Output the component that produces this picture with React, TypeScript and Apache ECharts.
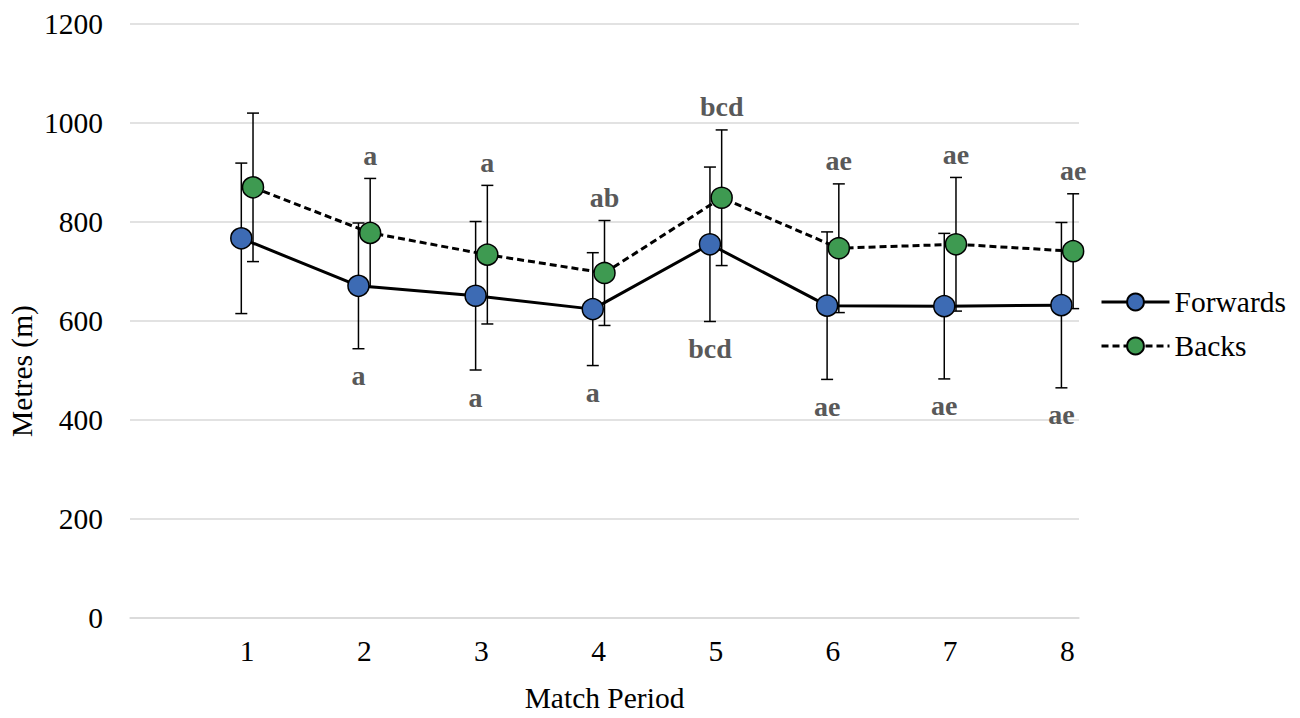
import React, { useEffect, useRef } from "react";
import * as echarts from "echarts";

const periods = [1, 2, 3, 4, 5, 6, 7, 8];
const forwardsMean = [767, 671, 651, 624, 755, 631, 630, 632];
const forwardsSD = [152, 127, 150, 114, 156, 149, 147, 167];
const backsMean = [870, 778, 734, 697, 849, 747, 755, 741];
const backsSD = [150, 110, 140, 106, 137, 130, 135, 116];
const forwardsLetters = ["", "a", "a", "a", "bcd", "ae", "ae", "ae"];
const backsLetters = ["", "a", "a", "ab", "bcd", "ae", "ae", "ae"];

const FONT = "Liberation Serif, Times New Roman, serif";
const FS = 29.5;
const FORWARD_SHIFT = -0.05;
const BACK_SHIFT = 0.05;
const BLUE = "#3d6bb4";
const GREEN = "#3e9a51";
const GRID = "#d9d9d9";

function errorSeries(
  name: string,
  means: number[],
  sds: number[],
  shift: number,
  letters: string[],
  above: boolean
) {
  return {
    type: "custom",
    name,
    silent: true,
    z: 1,
    data: periods.map((p, i) => [p + shift, means[i] - sds[i], means[i] + sds[i]]),
    encode: { x: 0, y: [1, 2] },
    renderItem: (params: any, api: any) => {
      const x = api.value(0);
      const lo = api.coord([x, api.value(1)]);
      const hi = api.coord([x, api.value(2)]);
      const cap = 6;
      const style = { stroke: "#000", lineWidth: 1.5 };
      const children: any[] = [
        { type: "line", shape: { x1: hi[0], y1: hi[1], x2: lo[0], y2: lo[1] }, style },
        { type: "line", shape: { x1: hi[0] - cap, y1: hi[1], x2: hi[0] + cap, y2: hi[1] }, style },
        { type: "line", shape: { x1: lo[0] - cap, y1: lo[1], x2: lo[0] + cap, y2: lo[1] }, style },
      ];
      const letter = letters[params.dataIndex];
      if (letter) {
        children.push({
          type: "text",
          x: hi[0],
          y: above ? hi[1] - 9 : lo[1] + 13,
          style: {
            text: letter,
            fontSize: 28,
            fontWeight: "bold",
            fontFamily: FONT,
            fill: "#595959",
            align: "center",
            verticalAlign: above ? "bottom" : "top",
          },
        });
      }
      return { type: "group", children };
    },
  };
}

export default function App() {
  const ref = useRef<HTMLDivElement>(null);
  useEffect(() => {
    if (!ref.current) return;
    const chart = echarts.init(ref.current, undefined, { renderer: "svg" });
    chart.setOption({
      animation: false,
      backgroundColor: "#fff",
      textStyle: { fontFamily: FONT },
      grid: { left: 130, right: 221, top: 24, bottom: 98, containLabel: false },
      legend: {
        orient: "vertical",
        left: 1095,
        top: 282,
        itemWidth: 68,
        itemHeight: 21,
        itemGap: 14,
        data: ["Forwards", "Backs"],
        lineStyle: { width: 3 },
        textStyle: { fontSize: FS, fontFamily: FONT, color: "#000" },
      },
      xAxis: {
        type: "value",
        min: 0,
        max: 8.1,
        interval: 1,
        name: "Match Period",
        nameLocation: "middle",
        nameGap: 65,
        nameTextStyle: { fontSize: FS, fontFamily: FONT, color: "#000" },
        axisLine: { show: true, lineStyle: { color: GRID, width: 1.5 } },
        axisTick: { show: false },
        splitLine: { show: false },
        axisLabel: {
          margin: 18,
          fontSize: FS,
          fontFamily: FONT,
          color: "#000",
          showMinLabel: true,
          showMaxLabel: true,
          formatter: (v: number) => (periods.includes(v) ? String(v) : ""),
        },
      },
      yAxis: {
        type: "value",
        min: 0,
        max: 1200,
        interval: 200,
        axisLine: { show: false },
        axisTick: { show: false },
        splitLine: { show: true, lineStyle: { color: GRID, width: 1.5 } },
        axisLabel: {
          margin: 27,
          fontSize: FS,
          fontFamily: FONT,
          color: "#000",
          formatter: (v: number) => String(v),
        },
      },
      graphic: [
        {
          type: "text",
          x: 22,
          y: 371,
          rotation: Math.PI / 2,
          style: {
            text: "Metres (m)",
            fontSize: FS,
            fontFamily: FONT,
            fill: "#000",
            align: "center",
            verticalAlign: "middle",
          },
        },
      ],
      series: [
        errorSeries("Forwards SD", forwardsMean, forwardsSD, FORWARD_SHIFT, forwardsLetters, false),
        errorSeries("Backs SD", backsMean, backsSD, BACK_SHIFT, backsLetters, true),
        {
          type: "line",
          name: "Forwards",
          z: 3,
          data: periods.map((p, i) => [p + FORWARD_SHIFT, forwardsMean[i]]),
          symbol: "circle",
          symbolSize: 21,
          lineStyle: { color: "#000", width: 3, type: "solid" },
          itemStyle: { color: BLUE, borderColor: "#000", borderWidth: 1.5 },
        },
        {
          type: "line",
          name: "Backs",
          z: 3,
          data: periods.map((p, i) => [p + BACK_SHIFT, backsMean[i]]),
          symbol: "circle",
          symbolSize: 21,
          lineStyle: { color: "#000", width: 3, type: [7, 4] },
          itemStyle: { color: GREEN, borderColor: "#000", borderWidth: 1.5 },
        },
      ],
    });
    return () => chart.dispose();
  }, []);
  return (
    <div
      ref={ref}
      style={{ position: "fixed", left: 0, top: 0, width: 1300, height: 718, background: "#fff" }}
    />
  );
}
